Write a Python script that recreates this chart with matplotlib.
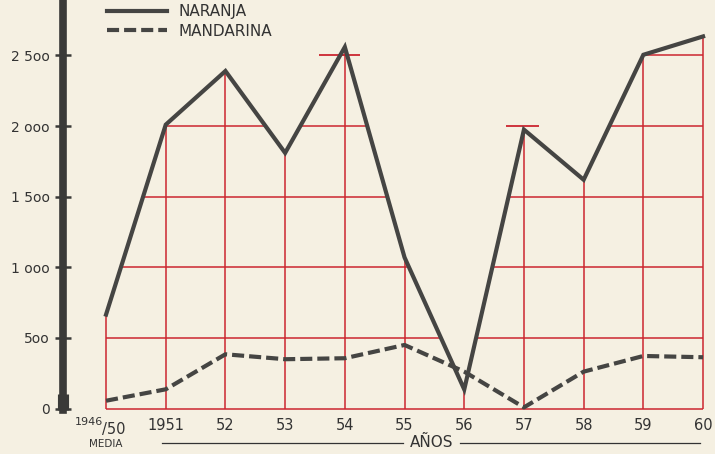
import matplotlib
matplotlib.use("Agg")
import matplotlib.pyplot as plt
from matplotlib.patches import Polygon
import numpy as np

# values (thousand tonnes, roughly)
years = ["1946/50", "1951", "52", "53", "54", "55", "56", "57", "58", "59", "60"]
naranja = [665, 2010, 2390, 1810, 2560, 1070, 135, 1975, 1620, 2505, 2635]
mandarina = [55, 136, 384, 349, 356, 450, 261, 8, 261, 372, 363]
y_ticks = [0, 500, 1000, 1500, 2000, 2500]
y_labels = ["0", "5oo", "1 ooo", "1 5oo", "2 ooo", "2 5oo"]

paper = "#f5f0e2"
ink = "#454543"
red = "#cc2630"

fig = plt.figure(figsize=(7.15, 4.54), dpi=100, facecolor=paper)
ax = fig.add_axes([0, 1 - 410 / 454, 1, 410 / 454])
ax.set_facecolor(paper)

x = np.arange(len(years))
ax.set_xlim(-1.776, 10.2)
ax.set_ylim(-10.6, 2893)

# red grid only inside the area under the naranja curve
poly_x = [-0.03] + list(x) + [x[-1] + 0.03, x[-1] + 0.03, -0.03]
poly_y = [naranja[0]] + naranja + [naranja[-1], -30, -30]
clip = Polygon(np.column_stack([poly_x, poly_y]), closed=True,
               facecolor="none", edgecolor="none", transform=ax.transData)
ax.add_patch(clip)
vl = ax.vlines(x, 0, max(naranja) + 100, color=red, lw=1.1, zorder=1)
hl = ax.hlines(y_ticks, x[0], x[-1], color=red, lw=1.1, zorder=1)
vl.set_clip_path(clip)
hl.set_clip_path(clip)
# little red marks on the peaks of 54 and 57
for i, w in [(4, (0.43, 0.25)), (7, (0.3, 0.25))]:
    lvl = round(naranja[i] / 500) * 500
    ax.hlines(lvl, x[i] - w[0], x[i] + w[1], color=red, lw=1.3, zorder=1)

ax.plot(x, naranja, color=ink, lw=3, solid_joinstyle="miter",
        label="NARANJA", zorder=3)
ax.plot(x, mandarina, color=ink, lw=3, dashes=(2.9, 1.2),
        label="MANDARINA", zorder=3)

# thick vertical axis bar
for s in ["top", "right", "bottom"]:
    ax.spines[s].set_visible(False)
ax.spines["left"].set_position(("data", -0.72))
ax.spines["left"].set_linewidth(5.5)
ax.spines["left"].set_color("#3a3a38")
ax.plot([-0.72, -0.72], [-10, 100], color="#3a3a38", lw=8, solid_capstyle="butt",
        clip_on=False, zorder=4)
ax.set_yticks(y_ticks)
ax.set_yticklabels(y_labels)
ax.tick_params(axis="y", direction="inout", length=11, width=1.8, color="#3a3a38",
               labelsize=10, labelcolor="#333333", pad=4)

ax.set_xticks(x)
ax.set_xticklabels([""] + years[1:])
ax.tick_params(axis="x", length=0, labelsize=10.5, labelcolor="#333333", pad=6)

# first label: 1946/50 MEDIA
ax.text(x[0] - 0.05, -96, "1946", ha="right", va="center", fontsize=8, color="#333333")
ax.text(x[0] - 0.07, -148, "/50", ha="left", va="center", fontsize=10.5, color="#333333")
ax.text(x[0], -251, "MEDIA", ha="center", va="center", fontsize=7.5, color="#333333")

# AÑOS with rules on each side
ax.text(5.46, -244, "AÑOS", ha="center", va="center", fontsize=11, color="#333333")
ax.plot([0.94, 4.98], [-244, -244], color="#333333", lw=0.9, clip_on=False)
ax.plot([5.93, 9.95], [-244, -244], color="#333333", lw=0.9, clip_on=False)

ax.legend(loc="upper left", bbox_to_anchor=(107 / 715, 1 - 4 / 410), frameon=False,
          borderpad=0, borderaxespad=0, handlelength=3.9, handletextpad=0.75,
          labelspacing=0.3, fontsize=11, labelcolor="#333333")

fig.savefig("out.png", dpi=100, facecolor=paper)
